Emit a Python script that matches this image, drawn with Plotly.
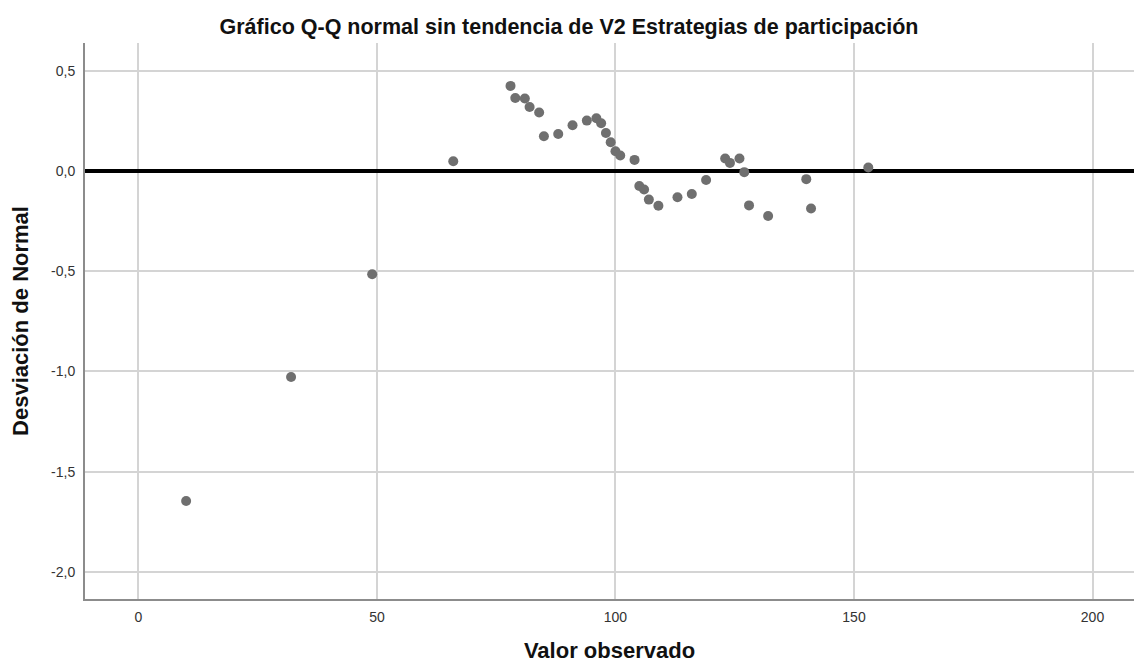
import plotly.graph_objects as go

observed = [10, 32, 49, 66, 78, 79, 81, 82, 84, 85, 88, 91, 94, 96, 97, 98, 99, 100,
            101, 104, 105, 106, 107, 109, 113, 116, 119, 123, 124, 126, 127, 128,
            132, 140, 141, 153]
deviation = [-1.646, -1.028, -0.515, 0.048, 0.424, 0.364, 0.361, 0.319, 0.291, 0.173,
             0.184, 0.228, 0.251, 0.263, 0.238, 0.189, 0.143, 0.098, 0.077, 0.055,
             -0.075, -0.093, -0.143, -0.174, -0.131, -0.115, -0.045, 0.062, 0.040,
             0.062, -0.006, -0.172, -0.225, -0.041, -0.187, 0.017]

x_ticks = [0, 50, 100, 150, 200]
y_ticks = [0.5, 0.0, -0.5, -1.0, -1.5, -2.0]
y_tick_labels = [f"{v:.1f}".replace(".", ",") for v in y_ticks]

title_text = "Gráfico Q-Q normal sin tendencia de V2 Estrategias de participación"
x_title = "Valor observado"
y_title = "Desviación de Normal"

FONT = "Liberation Sans, Arial, sans-serif"

fig = go.Figure()
fig.add_trace(go.Scatter(
    x=observed, y=deviation, mode="markers",
    marker=dict(size=10, color="#6f6f6f", line=dict(width=0)),
    showlegend=False, hoverinfo="x+y",
))

fig.update_layout(
    width=1134, height=663,
    margin=dict(l=85, r=0, t=43, b=64),
    paper_bgcolor="white", plot_bgcolor="white",
    font=dict(family=FONT, color="#222222"),
    title=dict(text="<b>" + title_text + "</b>", x=569 / 1134, xref="container",
               xanchor="center", y=1 - 26 / 663, yref="container", yanchor="middle",
               font=dict(size=21.5, color="#111111", family=FONT)),
    showlegend=False,
)

fig.update_xaxes(
    range=[-11.2, 208.7], tickvals=x_ticks, ticktext=[str(v) for v in x_ticks],
    showgrid=True, gridcolor="#d4d4d4", gridwidth=1.5,
    showline=True, linecolor="#8c8c8c", linewidth=2,
    zeroline=False, ticks="", ticklabelstandoff=4,
    tickfont=dict(size=14, color="#333333", family=FONT),
    title=dict(text="<b>" + x_title + "</b>", standoff=21,
               font=dict(size=22, color="#111111", family=FONT)),
)
fig.update_yaxes(
    range=[-2.135, 0.638], tickvals=y_ticks, ticktext=y_tick_labels,
    showgrid=True, gridcolor="#d4d4d4", gridwidth=1.5,
    showline=True, linecolor="#8c8c8c", linewidth=2,
    zeroline=True, zerolinecolor="#000000", zerolinewidth=3.5,
    ticks="", ticklabelstandoff=5,
    tickfont=dict(size=14, color="#333333", family=FONT),
    title=dict(text="<b>" + y_title + "</b>", standoff=16,
               font=dict(size=22, color="#111111", family=FONT)),
)

fig.write_html("out.html")
